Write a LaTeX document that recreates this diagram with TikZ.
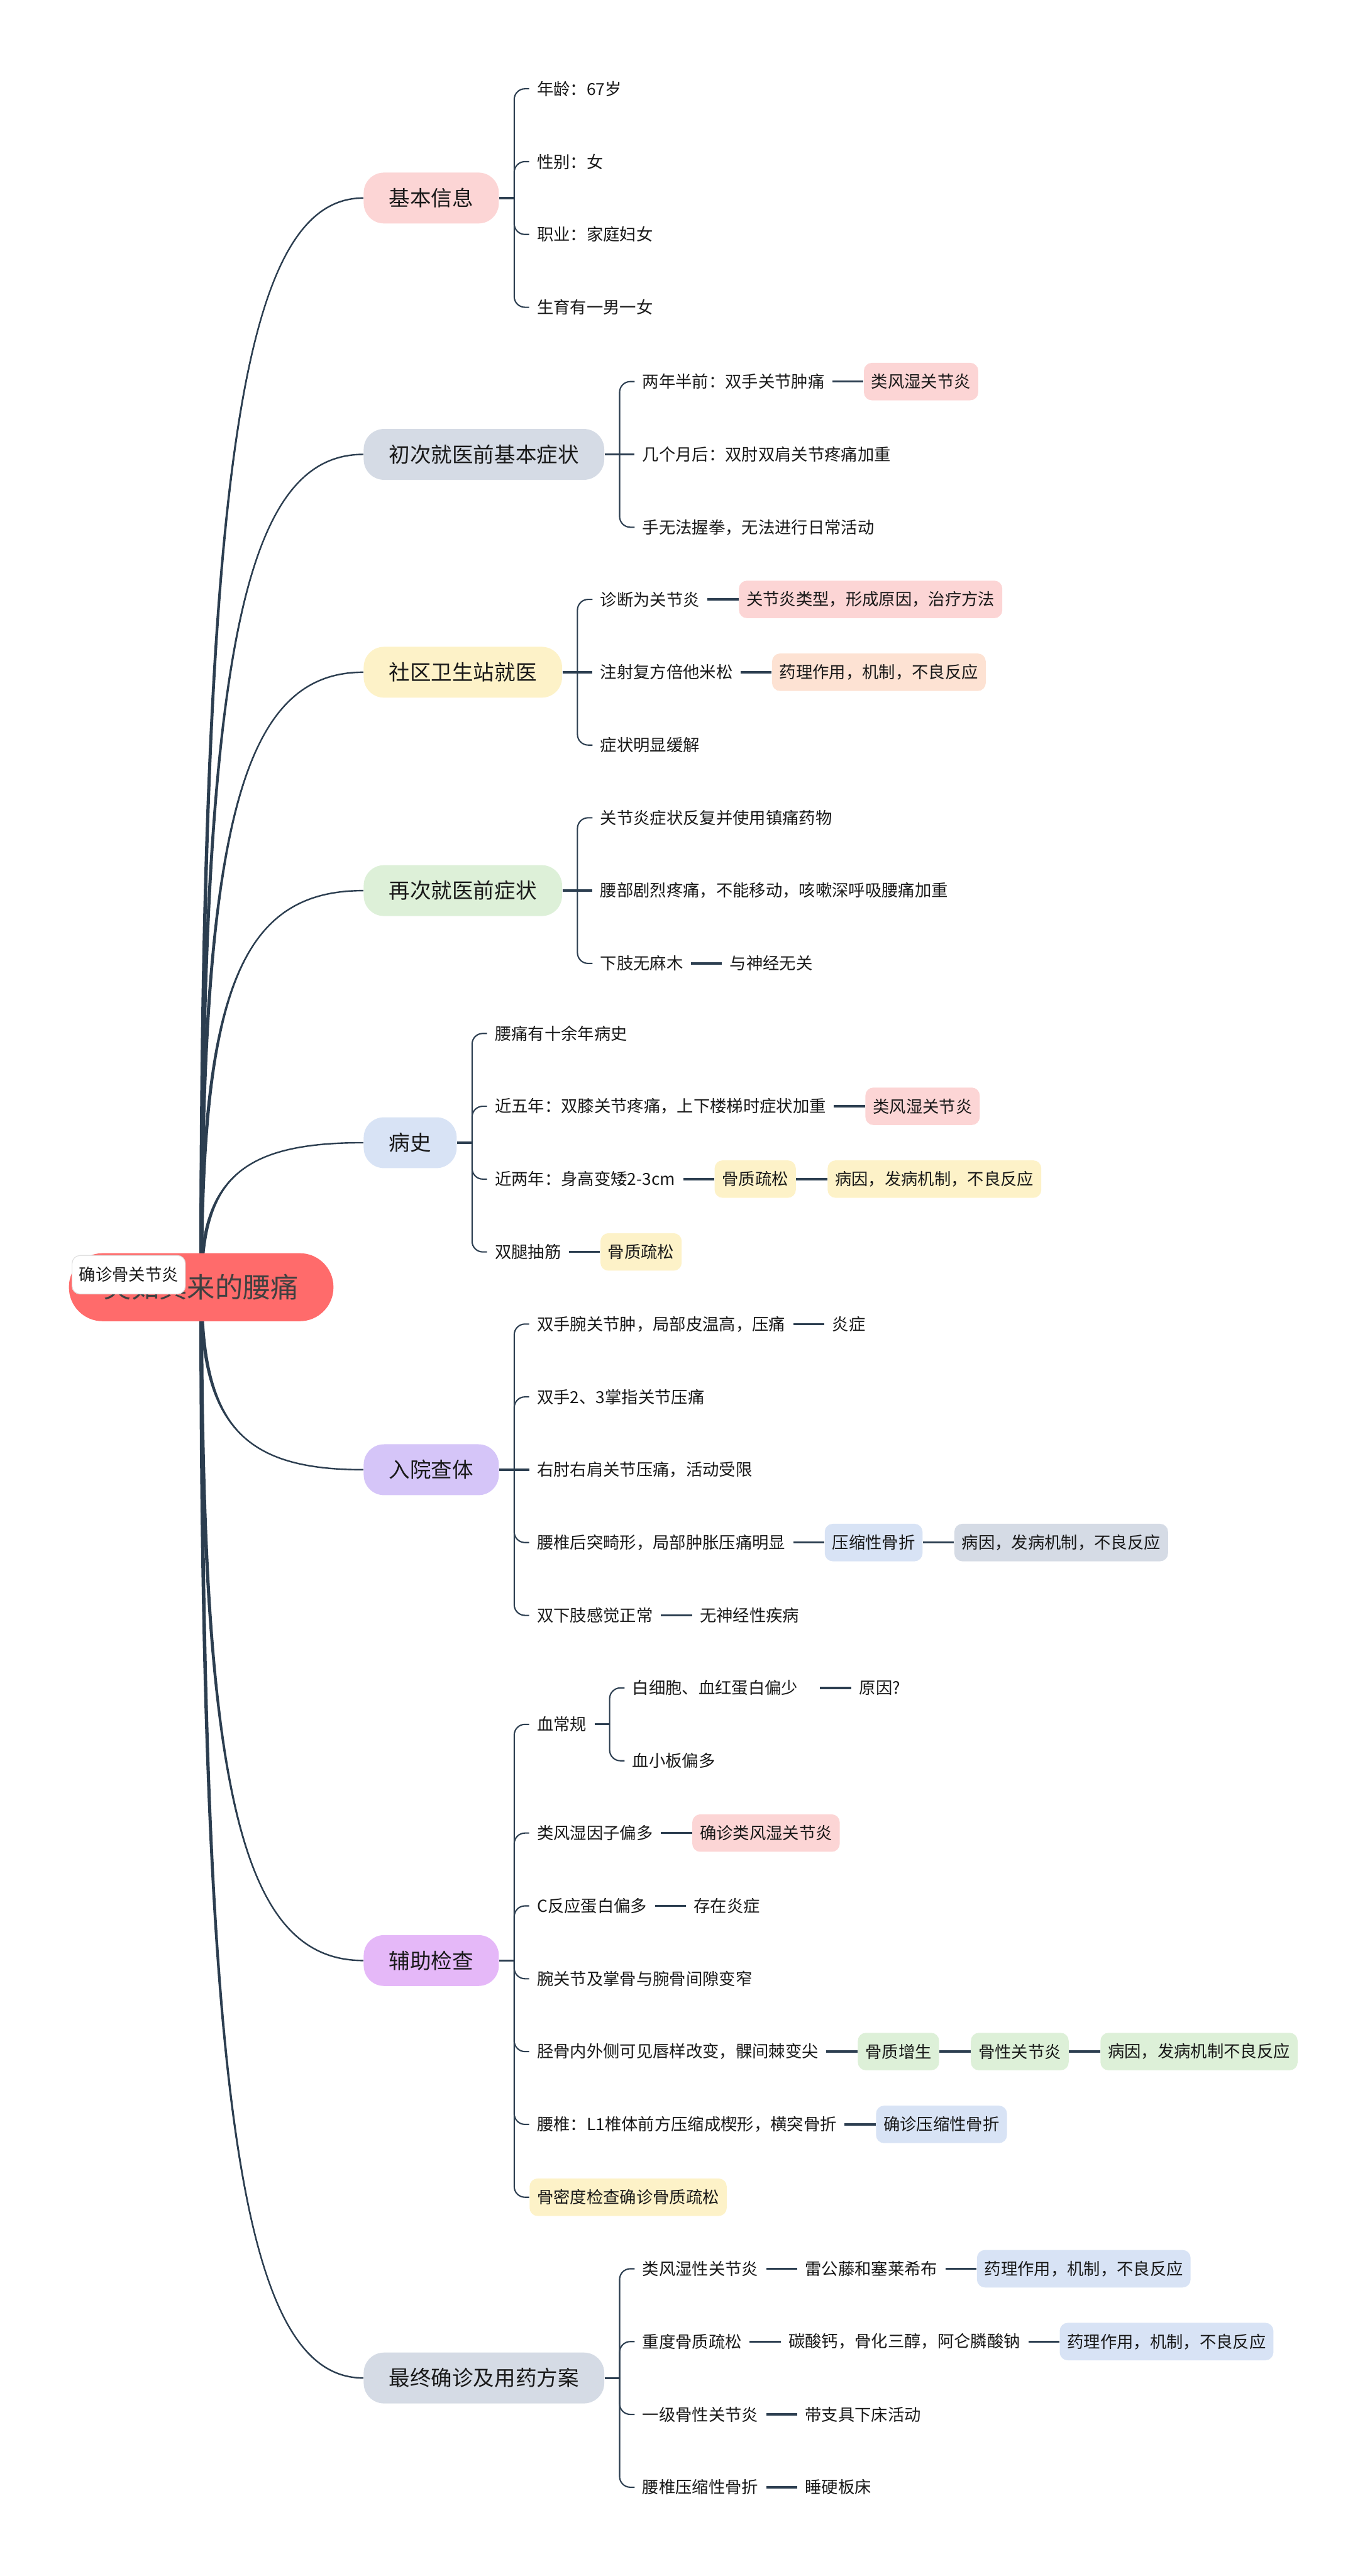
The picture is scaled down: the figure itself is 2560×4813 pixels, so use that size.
\documentclass[tikz,border=0pt]{standalone}
\usepackage{fontspec}
\newfontfamily\cjk{Noto Sans CJK SC}
\usepackage{tikz}
\usetikzlibrary{positioning,calc,backgrounds}
\definecolor{linknavy}{RGB}{44,62,80}
\definecolor{rootred}{RGB}{255,107,107}
\definecolor{boxpink}{RGB}{252,213,213}
\definecolor{boxpeach}{RGB}{253,226,211}
\definecolor{boxyellow}{RGB}{253,242,200}
\definecolor{boxgreen}{RGB}{221,240,216}
\definecolor{boxblue}{RGB}{216,227,245}
\definecolor{boxgray}{RGB}{213,219,229}
\definecolor{boxlav}{RGB}{213,197,248}
\definecolor{boxviolet}{RGB}{229,184,248}
\tikzset{
  basebox/.style={rectangle,align=center,text=black!90,font=\cjk\fontsize{8.8}{10.5}\selectfont},
  rootnode/.style={basebox,fill=rootred,rounded corners=0.63cm,minimum height=1.27cm,inner xsep=0.65cm,text=black!75,font=\cjk\fontsize{14.8}{17}\selectfont},
  marknode/.style={basebox,fill=white,draw=black!12,rounded corners=0.15cm,minimum height=0.72cm,inner xsep=0.13cm},
  topicnode/.style={basebox,anchor=west,rounded corners=0.38cm,minimum height=0.95cm,inner xsep=0.475cm,font=\cjk\fontsize{11.2}{13}\selectfont},
  leafnode/.style={basebox,anchor=west,minimum height=0.7cm,inner xsep=0.14cm},
  tagnode/.style={leafnode,rounded corners=0.15cm},
  stubline/.style={line width=1.1pt,color=linknavy},
  brkline/.style={line width=0.7pt,color=linknavy,rounded corners=0.2cm}
}
\newcommand{\rootlink}[1]{%
  \fill[linknavy] let \p1=(root.center), \p2=(#1.west) in
    ({\x1-1pt},\y1) .. controls ({\x1-1pt},{\y1+0.75*(\y2-\y1)}) and ({\x1+0.25*(\x2-\x1)},\y2) .. (\p2)
    .. controls ({\x1+0.25*(\x2-\x1)},\y2) and ({\x1+1pt},{\y1+0.75*(\y2-\y1)}) .. ({\x1+1pt},\y1) -- cycle;
  \draw[linknavy,line width=0.8pt] let \p1=(root.center), \p2=(#1.west) in
    (\p1) .. controls (\x1,{\y1+0.75*(\y2-\y1)}) and ({\x1+0.25*(\x2-\x1)},\y2) .. (\p2);}

\begin{document}
\begin{tikzpicture}[x=0.01cm,y=-0.01cm]
  \useasboundingbox (0,0) rectangle (2560,4813);
  \node[rootnode] (root) at (376,2405) {突如其来的腰痛};
  \node[marknode,anchor=north west] (mark) at (134,2345) {确诊骨关节炎};

  \node[topicnode,fill=boxpink] (jbxx) at (679,370) {基本信息};
  \node[topicnode,fill=boxgray] (ccjy) at (679,849) {初次就医前基本症状};
  \node[topicnode,fill=boxyellow] (sqwsz) at (679,1256) {社区卫生站就医};
  \node[topicnode,fill=boxgreen] (zcjy) at (679,1664) {再次就医前症状};
  \node[topicnode,fill=boxblue] (bs) at (679,2135) {病史};
  \node[topicnode,fill=boxlav] (ryct) at (679,2746) {入院查体};
  \node[topicnode,fill=boxviolet] (fzjc) at (679,3663) {辅助检查};
  \node[topicnode,fill=boxgray] (zzqz) at (679,4443) {最终确诊及用药方案};

  \begin{scope}[on background layer]
    \foreach \b in {jbxx,ccjy,sqwsz,zcjy,bs,ryct,fzjc,zzqz} {\rootlink{\b}}
  \end{scope}

  % 基本信息
  \coordinate (jbxxb) at ([xshift=0.28cm]jbxx.east);
  \node[leafnode] (jb1) at ([xshift=0.28cm,yshift=2.04cm]jbxxb) {年龄：67岁};
  \node[leafnode] (jb2) at ([xshift=0.28cm,yshift=0.68cm]jbxxb) {性别：女};
  \node[leafnode] (jb3) at ([xshift=0.28cm,yshift=-0.68cm]jbxxb) {职业：家庭妇女};
  \node[leafnode] (jb4) at ([xshift=0.28cm,yshift=-2.04cm]jbxxb) {生育有一男一女};
  \draw[stubline] (jbxx) -- (jbxxb);
  \foreach \c in {jb1,jb2,jb3,jb4} \draw[brkline] (jbxxb) |- (\c.west);

  % 初次就医前基本症状
  \coordinate (ccjyb) at ([xshift=0.28cm]ccjy.east);
  \node[leafnode] (cc1) at ([xshift=0.28cm,yshift=1.36cm]ccjyb) {两年半前：双手关节肿痛};
  \node[leafnode] (cc2) at ([xshift=0.28cm]ccjyb) {几个月后：双肘双肩关节疼痛加重};
  \node[leafnode] (cc3) at ([xshift=0.28cm,yshift=-1.36cm]ccjyb) {手无法握拳，无法进行日常活动};
  \node[tagnode,fill=boxpink,right=0.58cm of cc1] (cc1a) {类风湿关节炎};
  \draw[stubline] (ccjy) -- (ccjyb) -- (cc2.west);
  \foreach \c in {cc1,cc3} \draw[brkline] (ccjyb) |- (\c.west);
  \draw[stubline] (cc1) -- (cc1a);

  % 社区卫生站就医
  \coordinate (sqwszb) at ([xshift=0.28cm]sqwsz.east);
  \node[leafnode] (sq1) at ([xshift=0.28cm,yshift=1.36cm]sqwszb) {诊断为关节炎};
  \node[leafnode] (sq2) at ([xshift=0.28cm]sqwszb) {注射复方倍他米松};
  \node[leafnode] (sq3) at ([xshift=0.28cm,yshift=-1.36cm]sqwszb) {症状明显缓解};
  \node[tagnode,fill=boxpink,right=0.58cm of sq1] (sq1a) {关节炎类型，形成原因，治疗方法};
  \node[tagnode,fill=boxpeach,right=0.58cm of sq2] (sq2a) {药理作用，机制，不良反应};
  \draw[stubline] (sqwsz) -- (sqwszb) -- (sq2.west);
  \foreach \c in {sq1,sq3} \draw[brkline] (sqwszb) |- (\c.west);
  \draw[stubline] (sq1) -- (sq1a);
  \draw[stubline] (sq2) -- (sq2a);

  % 再次就医前症状
  \coordinate (zcjyb) at ([xshift=0.28cm]zcjy.east);
  \node[leafnode] (zc1) at ([xshift=0.28cm,yshift=1.36cm]zcjyb) {关节炎症状反复并使用镇痛药物};
  \node[leafnode] (zc2) at ([xshift=0.28cm]zcjyb) {腰部剧烈疼痛，不能移动，咳嗽深呼吸腰痛加重};
  \node[leafnode] (zc3) at ([xshift=0.28cm,yshift=-1.36cm]zcjyb) {下肢无麻木};
  \node[leafnode,right=0.58cm of zc3] (zc3a) {与神经无关};
  \draw[stubline] (zcjy) -- (zcjyb) -- (zc2.west);
  \foreach \c in {zc1,zc3} \draw[brkline] (zcjyb) |- (\c.west);
  \draw[stubline] (zc3) -- (zc3a);

  % 病史
  \coordinate (bsb) at ([xshift=0.28cm]bs.east);
  \node[leafnode] (bs1) at ([xshift=0.28cm,yshift=2.04cm]bsb) {腰痛有十余年病史};
  \node[leafnode] (bs2) at ([xshift=0.28cm,yshift=0.68cm]bsb) {近五年：双膝关节疼痛，上下楼梯时症状加重};
  \node[leafnode] (bs3) at ([xshift=0.28cm,yshift=-0.68cm]bsb) {近两年：身高变矮2-3cm};
  \node[leafnode] (bs4) at ([xshift=0.28cm,yshift=-2.04cm]bsb) {双腿抽筋};
  \node[tagnode,fill=boxpink,right=0.58cm of bs2] (bs2a) {类风湿关节炎};
  \node[tagnode,fill=boxyellow,right=0.58cm of bs3] (bs3a) {骨质疏松};
  \node[tagnode,fill=boxyellow,right=0.58cm of bs3a] (bs3b) {病因，发病机制，不良反应};
  \node[tagnode,fill=boxyellow,right=0.58cm of bs4] (bs4a) {骨质疏松};
  \draw[stubline] (bs) -- (bsb);
  \foreach \c in {bs1,bs2,bs3,bs4} \draw[brkline] (bsb) |- (\c.west);
  \draw[stubline] (bs2) -- (bs2a);
  \draw[stubline] (bs3) -- (bs3a); \draw[stubline] (bs3a) -- (bs3b);
  \draw[stubline] (bs4) -- (bs4a);

  % 入院查体
  \coordinate (ryctb) at ([xshift=0.28cm]ryct.east);
  \node[leafnode] (ry1) at ([xshift=0.28cm,yshift=2.72cm]ryctb) {双手腕关节肿，局部皮温高，压痛};
  \node[leafnode] (ry2) at ([xshift=0.28cm,yshift=1.36cm]ryctb) {双手2、3掌指关节压痛};
  \node[leafnode] (ry3) at ([xshift=0.28cm]ryctb) {右肘右肩关节压痛，活动受限};
  \node[leafnode] (ry4) at ([xshift=0.28cm,yshift=-1.36cm]ryctb) {腰椎后突畸形，局部肿胀压痛明显};
  \node[leafnode] (ry5) at ([xshift=0.28cm,yshift=-2.72cm]ryctb) {双下肢感觉正常};
  \node[leafnode,right=0.58cm of ry1] (ry1a) {炎症};
  \node[tagnode,fill=boxblue,right=0.58cm of ry4] (ry4a) {压缩性骨折};
  \node[tagnode,fill=boxgray,right=0.58cm of ry4a] (ry4b) {病因，发病机制，不良反应};
  \node[leafnode,right=0.58cm of ry5] (ry5a) {无神经性疾病};
  \draw[stubline] (ryct) -- (ryctb) -- (ry3.west);
  \foreach \c in {ry1,ry2,ry4,ry5} \draw[brkline] (ryctb) |- (\c.west);
  \draw[stubline] (ry1) -- (ry1a);
  \draw[stubline] (ry4) -- (ry4a); \draw[stubline] (ry4a) -- (ry4b);
  \draw[stubline] (ry5) -- (ry5a);

  % 辅助检查
  \coordinate (fzjcb) at ([xshift=0.28cm]fzjc.east);
  \node[leafnode] (fz1) at ([xshift=0.28cm,yshift=4.41cm]fzjcb) {血常规};
  \node[leafnode] (fz2) at ([xshift=0.28cm,yshift=2.38cm]fzjcb) {类风湿因子偏多};
  \node[leafnode] (fz3) at ([xshift=0.28cm,yshift=1.02cm]fzjcb) {C反应蛋白偏多};
  \node[leafnode] (fz4) at ([xshift=0.28cm,yshift=-0.34cm]fzjcb) {腕关节及掌骨与腕骨间隙变窄};
  \node[leafnode] (fz5) at ([xshift=0.28cm,yshift=-1.70cm]fzjcb) {胫骨内外侧可见唇样改变，髁间棘变尖};
  \node[leafnode] (fz6) at ([xshift=0.28cm,yshift=-3.06cm]fzjcb) {腰椎：L1椎体前方压缩成楔形，横突骨折};
  \node[tagnode,fill=boxyellow] (fz7) at ([xshift=0.28cm,yshift=-4.42cm]fzjcb) {骨密度检查确诊骨质疏松};
  \coordinate (fz1b) at ([xshift=0.28cm]fz1.east);
  \node[leafnode] (fz1x) at ([xshift=0.28cm,yshift=0.68cm]fz1b) {白细胞、血红蛋白偏少};
  \node[leafnode] (fz1y) at ([xshift=0.28cm,yshift=-0.68cm]fz1b) {血小板偏多};
  \node[leafnode,right=0.85cm of fz1x] (fz1xa) {原因?};
  \node[tagnode,fill=boxpink,right=0.58cm of fz2] (fz2a) {确诊类风湿关节炎};
  \node[leafnode,right=0.58cm of fz3] (fz3a) {存在炎症};
  \node[tagnode,fill=boxgreen,right=0.58cm of fz5] (fz5a) {骨质增生};
  \node[tagnode,fill=boxgreen,right=0.58cm of fz5a] (fz5b) {骨性关节炎};
  \node[tagnode,fill=boxgreen,right=0.58cm of fz5b] (fz5c) {病因，发病机制不良反应};
  \node[tagnode,fill=boxblue,right=0.58cm of fz6] (fz6a) {确诊压缩性骨折};
  \draw[stubline] (fzjc) -- (fzjcb);
  \foreach \c in {fz1,fz2,fz3,fz4,fz5,fz6,fz7} \draw[brkline] (fzjcb) |- (\c.west);
  \draw[stubline] (fz1) -- (fz1b);
  \foreach \c in {fz1x,fz1y} \draw[brkline] (fz1b) |- (\c.west);
  \draw[stubline] ([xshift=0.26cm]fz1x.east) -- (fz1xa);
  \draw[stubline] (fz2) -- (fz2a);
  \draw[stubline] (fz3) -- (fz3a);
  \draw[stubline] (fz5) -- (fz5a); \draw[stubline] (fz5a) -- (fz5b); \draw[stubline] (fz5b) -- (fz5c);
  \draw[stubline] (fz6) -- (fz6a);

  % 最终确诊及用药方案
  \coordinate (zzqzb) at ([xshift=0.28cm]zzqz.east);
  \node[leafnode] (zz1) at ([xshift=0.28cm,yshift=2.04cm]zzqzb) {类风湿性关节炎};
  \node[leafnode] (zz2) at ([xshift=0.28cm,yshift=0.68cm]zzqzb) {重度骨质疏松};
  \node[leafnode] (zz3) at ([xshift=0.28cm,yshift=-0.68cm]zzqzb) {一级骨性关节炎};
  \node[leafnode] (zz4) at ([xshift=0.28cm,yshift=-2.04cm]zzqzb) {腰椎压缩性骨折};
  \node[leafnode,right=0.58cm of zz1] (zz1a) {雷公藤和塞莱希布};
  \node[tagnode,fill=boxblue,right=0.58cm of zz1a] (zz1b) {药理作用，机制，不良反应};
  \node[leafnode,right=0.58cm of zz2] (zz2a) {碳酸钙，骨化三醇，阿仑膦酸钠};
  \node[tagnode,fill=boxblue,right=0.58cm of zz2a] (zz2b) {药理作用，机制，不良反应};
  \node[leafnode,right=0.58cm of zz3] (zz3a) {带支具下床活动};
  \node[leafnode,right=0.58cm of zz4] (zz4a) {睡硬板床};
  \draw[stubline] (zzqz) -- (zzqzb);
  \foreach \c in {zz1,zz2,zz3,zz4} \draw[brkline] (zzqzb) |- (\c.west);
  \draw[stubline] (zz1) -- (zz1a); \draw[stubline] (zz1a) -- (zz1b);
  \draw[stubline] (zz2) -- (zz2a); \draw[stubline] (zz2a) -- (zz2b);
  \draw[stubline] (zz3) -- (zz3a);
  \draw[stubline] (zz4) -- (zz4a);
\end{tikzpicture}
\end{document}
